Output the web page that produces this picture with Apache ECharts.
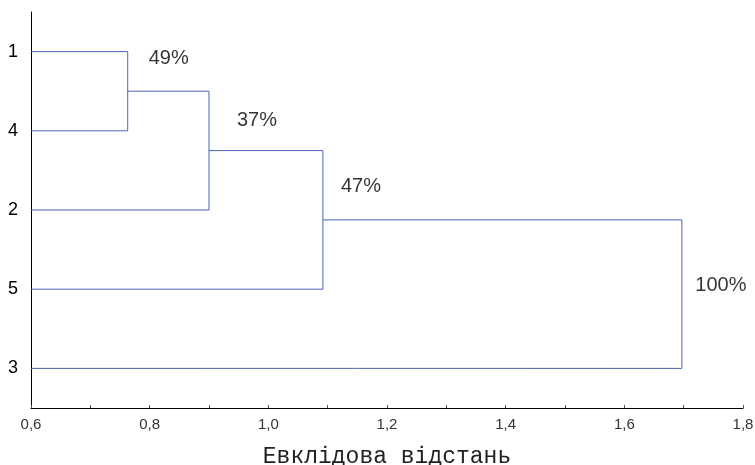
<!DOCTYPE html>
<html>
<head>
<meta charset="utf-8">
<script src="https://cdn.jsdelivr.net/npm/echarts@6/dist/echarts.min.js"></script>
<style>
  html, body { margin: 0; padding: 0; background: #fff; }
  #chart { width: 755px; height: 465px; }
</style>
</head>
<body>
<div id="chart"></div>
<script>
// Leaf order along the vertical axis (top to bottom)
const leaves = ['1', '4', '2', '5', '3'];
// Each merge joins two members: a leaf name or the index of an earlier merge
const mergeLeft  = ['1', 0, 1, 2];
const mergeRight = ['4', '2', '5', '3'];
// Euclidean distance at which each merge happens
const mergeHeights = [0.763, 0.900, 1.092, 1.697];
// Percentage annotation for each merge
const mergeLabels = ['49%', '37%', '47%', '100%'];

// Axis range and ticks of the distance axis
const xMin = 0.6, xMax = 1.8, xStep = 0.2;

// Pixel offsets of the percentage labels from the top of each merge bracket
const labelOffsets = [[41, 7], [48, 29], [38, 36], [39, 66]];
const LINE_COLOR = '#4a63b8';

// Resolve node coordinates: leaves sit at the axis start, merges at their height
const nodes = [];
function nodeOf(ref) {
  if (typeof ref === 'string') {
    return { x: xMin, y: leaves.indexOf(ref) + 1 };
  }
  return nodes[ref];
}
const bracketSeries = [];
const labelData = [];
mergeHeights.forEach(function (h, i) {
  const a = nodeOf(mergeLeft[i]);
  const b = nodeOf(mergeRight[i]);
  nodes.push({ x: h, y: (a.y + b.y) / 2 });
  bracketSeries.push({
    type: 'line',
    xAxisIndex: 0,
    yAxisIndex: 1,
    showSymbol: false,
    silent: true,
    animation: false,
    color: LINE_COLOR,
    lineStyle: { color: LINE_COLOR, width: 1 },
    data: [[a.x, a.y], [h, a.y], [h, b.y], [b.x, b.y]]
  });
  labelData.push({
    value: [h, Math.min(a.y, b.y)],
    label: { offset: labelOffsets[i], formatter: mergeLabels[i] }
  });
});

const chart = echarts.init(document.getElementById('chart'), null, { renderer: 'canvas' });
chart.setOption({
  backgroundColor: '#ffffff',
  animation: false,
  grid: { left: 31, right: 12, top: 12, bottom: 57, containLabel: false, outerBoundsMode: 'none' },
  xAxis: {
    type: 'value',
    min: xMin,
    max: xMax,
    interval: xStep,
    name: 'Евклідова відстань',
    nameLocation: 'middle',
    nameGap: 37,
    nameTextStyle: { fontFamily: 'Liberation Mono', fontSize: 23, color: '#222' },
    axisLine: { show: true, lineStyle: { color: '#000', width: 1 } },
    axisTick: { show: true, inside: true, length: 3, lineStyle: { color: '#555' } },
    minorTick: { show: true, splitNumber: 2, length: 3, lineStyle: { color: '#555' } },
    splitLine: { show: false },
    axisLabel: {
      margin: 9,
      fontFamily: 'Liberation Sans',
      fontSize: 15,
      color: '#333',
      hideOverlap: false,
      formatter: function (v) { return v.toFixed(1).replace('.', ','); }
    }
  },
  yAxis: [
    {
      type: 'category',
      data: leaves,
      inverse: true,
      boundaryGap: true,
      axisLine: { show: true, lineStyle: { color: '#000', width: 1 } },
      axisTick: { show: false },
      splitLine: { show: false },
      axisLabel: { margin: 13, fontFamily: 'Liberation Sans', fontSize: 18, color: '#000' }
    },
    {
      type: 'value',
      min: 0.5,
      max: 5.5,
      inverse: true,
      show: false,
      splitLine: { show: false }
    }
  ],
  series: bracketSeries.concat([{
    type: 'scatter',
    xAxisIndex: 0,
    yAxisIndex: 1,
    symbolSize: 0,
    silent: true,
    label: {
      show: true,
      position: 'inside',
      fontFamily: 'Liberation Sans',
      fontSize: 20,
      color: '#000'
    },
    data: labelData
  }])
});
</script>
</body>
</html>
